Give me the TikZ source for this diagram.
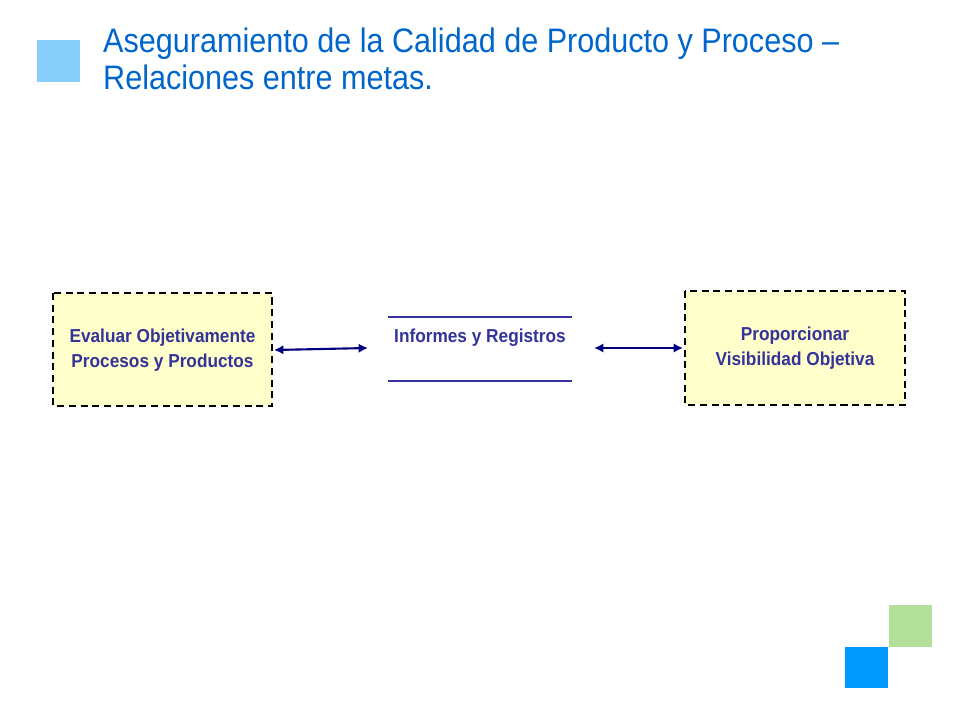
\documentclass[tikz,border=0pt]{standalone}
\usepackage{fontspec}
\setmainfont{Liberation Sans}
\usetikzlibrary{arrows.meta}
\definecolor{navy}{HTML}{000080}
\definecolor{ttl}{HTML}{0066CC}
\definecolor{txt}{HTML}{333399}
\definecolor{ylw}{HTML}{FFFFCC}
\tikzset{
  goal/.style={draw=black,fill=ylw,dashed,dash pattern=on 6pt off 4pt,line width=1.8pt},
  lbl/.style={font=\bfseries\fontsize{16}{21}\selectfont,text=txt,align=center,xscale=0.92,transform shape},
  conn/.style={draw=navy,line width=1.8pt,{Latex[length=8pt,width=8pt]}-{Latex[length=8pt,width=8pt]}},
  rule/.style={draw=txt,line width=1.8pt}
}
\begin{document}
\begin{tikzpicture}[x=0.03cm,y=-0.03cm]
\useasboundingbox (0,0) rectangle (960,720);
\fill[fill={rgb,255:red,135;green,206;blue,250}] (37,40) rectangle (80,82);
\fill[fill={rgb,255:red,179;green,224;blue,154}] (889,605) rectangle (932,647);
\fill[fill={rgb,255:red,0;green,153;blue,255}] (845,647) rectangle (888,688);
\node[anchor=north west,text=ttl,align=left,font=\fontsize{29}{31}\selectfont,inner sep=0pt,xscale=0.9,transform shape] (title) at (103,28)
 {Aseguramiento de la Calidad de Producto y Proceso –\\Relaciones entre metas.};
\draw[goal] (53,293) rectangle (272,406);
\node[lbl] (a) at (162.5,350) {Evaluar Objetivamente\\Procesos y Productos};
\draw[goal] (685,291) rectangle (905,405);
\node[lbl] (c) at (795,348) {Proporcionar\\Visibilidad Objetiva};
\node[lbl] (b) at (480,338) {Informes y Registros};
\draw[rule] (388,317) -- (572,317);
\draw[rule] (388,381) -- (572,381);
\coordinate (a1) at (274,350); \coordinate (b1) at (368,348);
\coordinate (b2) at (594,348); \coordinate (c1) at (683,348);
\draw[conn] (a1) -- (b1);
\draw[conn] (b2) -- (c1);
\end{tikzpicture}
\end{document}
